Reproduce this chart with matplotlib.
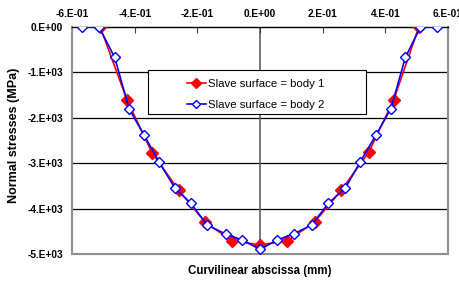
#!/bin/python3
# -*- coding: utf-8 -*-

#################################################
#     Libraries
#################################################
import numpy as np
import matplotlib
matplotlib.use( "Agg" )
import matplotlib.pyplot as plt
from matplotlib.patches import Rectangle

#################################################
#     Data
#################################################
x_body1 = [ -0.51, -0.425, -0.345, -0.26, -0.175, -0.089, 0.0, 0.087, 0.174, 0.26, 0.347, 0.427, 0.507 ]
s_body1 = [ 0, -1600, -2770, -3590, -4300, -4710, -4800, -4710, -4300, -3590, -2760, -1600, 0 ]

x_body2 = [ -0.567, -0.514, -0.464, -0.418, -0.371, -0.322, -0.272, -0.221, -0.169, -0.110, -0.057, 0.0,
            0.055, 0.109, 0.165, 0.218, 0.272, 0.320, 0.370, 0.418, 0.464, 0.512, 0.565 ]
s_body2 = [ 0, 0, -670, -1800, -2370, -2975, -3545, -3883, -4361, -4560, -4692, -4897,
            -4692, -4550, -4361, -3883, -3550, -2970, -2380, -1795, -670, 0, 0 ]

x_ticks = [ -0.6, -0.4, -0.2, 0.0, 0.2, 0.4, 0.6 ]
x_tick_labels = [ "-6.E-01", "-4.E-01", "-2.E-01", "0.E+00", "2.E-01", "4.E-01", "6.E-01" ]
y_ticks = [ 0, -1000, -2000, -3000, -4000, -5000 ]
y_tick_labels = [ "0.E+00", "-1.E+03", "-2.E+03", "-3.E+03", "-4.E+03", "-5.E+03" ]

#################################################
#     Plot
#################################################
plt.rcParams[ "font.family" ] = [ "Liberation Sans", "DejaVu Sans" ]

fig = plt.figure( figsize = ( 4.59, 2.83 ), dpi = 100 )
ax = fig.add_axes( [ 0.157, 0.1025, 0.819, 0.802 ] )

ax.set_xlim( -0.6, 0.6 )
ax.set_ylim( -5000, 0 )

# horizontal gridlines and the value axis through x = 0
for yv in y_ticks[ 1:-1 ]:
    ax.axhline( yv, color = "black", lw = 0.9, zorder = 1 )
ax.axvline( 0, color = "#606060", lw = 1.2, zorder = 1 )

ax.plot( x_body1, s_body1, color = "red", marker = "D", ms = 5.8, mfc = "red", mec = "red",
         lw = 1.2, label = "Slave surface = body 1", zorder = 3 )
ax.plot( x_body2, s_body2, color = "blue", marker = "D", ms = 5.3, mfc = "white", mec = "blue",
         mew = 1.0, lw = 1.2, label = "Slave surface = body 2", zorder = 4 )

# axes styling
ax.xaxis.tick_top()
ax.set_xticks( x_ticks )
ax.set_xticklabels( x_tick_labels, fontsize = 7.3, fontweight = "bold" )
ax.tick_params( axis = "x", direction = "in", length = 4, width = 0.8, color = "#404040", pad = 5.5 )
ax.set_yticks( y_ticks )
ax.set_yticklabels( y_tick_labels, fontsize = 7.3, fontweight = "bold" )
ax.tick_params( axis = "y", length = 0, pad = 6.5 )

ax.spines[ "top" ].set_color( "black" )
ax.spines[ "top" ].set_linewidth( 1.0 )
for side in [ "left", "right", "bottom" ]:
    ax.spines[ side ].set_color( "#909090" )
    ax.spines[ side ].set_linewidth( 1.5 )

fig.text( 0.031, 0.521, "Normal stresses (MPa)", fontsize = 9, fontweight = "bold",
          rotation = 90, ha = "center", va = "center" )
fig.text( 0.566, 0.042, "Curvilinear abscissa (mm)", fontsize = 8.3, fontweight = "bold",
          ha = "center", va = "center" )

# legend box (wider than its contents, as in the original)
ax.add_patch( Rectangle( ( 0.202, 0.617 ), 0.58, 0.194, transform = ax.transAxes, facecolor = "white",
                         edgecolor = "black", lw = 0.8, zorder = 5 ) )
leg = ax.legend( loc = "upper left", bbox_to_anchor = ( 0.306, 0.773 ), fontsize = 8.2,
                 frameon = False, borderpad = 0, labelspacing = 1.0, handlelength = 1.65,
                 borderaxespad = 0, handletextpad = 0.2, markerscale = 0.8 )
leg.set_zorder( 6 )

fig.savefig( "out.png", dpi = 100 )
